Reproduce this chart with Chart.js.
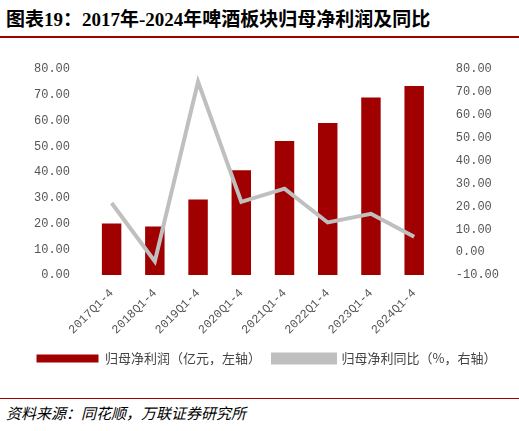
<!DOCTYPE html>
<html><head><meta charset="utf-8">
<script src="https://cdn.jsdelivr.net/npm/chart.js@4"></script>
<style>
body{margin:0;background:#fff;font-family:"Noto Sans CJK SC",serif;}
#title{position:absolute;left:6px;top:4px;font-size:19px;color:#000;font-family:"Liberation Serif","Noto Sans CJK SC";font-weight:bold;}
#line{position:absolute;left:0;top:36px;width:519px;height:2px;background:#a00000;}
#wrap{position:absolute;left:0;top:50px;width:519px;height:325px;}
#src{position:absolute;left:6px;top:402px;font-size:15px;font-style:italic;}
#bottomline{position:absolute;left:0;top:398px;width:519px;height:1px;background:#a00000;}
</style></head><body>
<div id="title">图表19：2017年-2024年啤酒板块归母净利润及同比</div>
<div id="line"></div>
<div id="wrap"><canvas id="c"></canvas></div>
<div id="bottomline"></div>
<div id="src">资料来源：同花顺，万联证券研究所</div>
<script>
const categories = ['2017Q1-4','2018Q1-4','2019Q1-4','2020Q1-4','2021Q1-4','2022Q1-4','2023Q1-4','2024Q1-4'];
const profit = [20.0, 18.9, 29.4, 40.7, 52.1, 59.1, 69.0, 73.5];
const growth = [21.5, -4.0, 74.5, 22.0, 27.8, 13.0, 16.8, 6.8];
const fmt = v => v.toFixed(2);
const tickFont = {family:'"Liberation Mono", monospace', size:12};
new Chart(document.getElementById('c'), {
  data: {
    labels: categories,
    datasets: [
      {type:'line', label:'归母净利同比（%，右轴）', data:growth, yAxisID:'y1',
       borderColor:'#bfbfbf', backgroundColor:'#bfbfbf', borderWidth:4, pointRadius:0, tension:0, order:0},
      {type:'bar', label:'归母净利润（亿元，左轴）', data:profit, yAxisID:'y',
       backgroundColor:'#a00000', barPercentage:0.45, categoryPercentage:1, order:1}
    ]
  },
  options: {
    responsive:true, maintainAspectRatio:false, animation:false,
    layout:{padding:{left:22,right:8,top:4}},
    plugins:{
      legend:{position:'bottom', reverse:true,
        labels:{font:{family:'"Noto Sans CJK SC"',size:13}, color:'#444', boxWidth:62, boxHeight:8, padding:12}},
      tooltip:{enabled:false}
    },
    scales:{
      x:{grid:{display:false}, border:{display:false},
         ticks:{maxRotation:45,minRotation:45,font:tickFont,color:'#555'}},
      y:{position:'left', min:0, max:80, grid:{display:false}, border:{display:false},
         ticks:{stepSize:10, callback:fmt, font:tickFont, color:'#555', padding:12}},
      y1:{position:'right', min:-10, max:80, grid:{display:false}, border:{display:false},
         ticks:{stepSize:10, callback:fmt, font:tickFont, color:'#555', padding:12}}
    }
  }
});
</script>
</body></html>
